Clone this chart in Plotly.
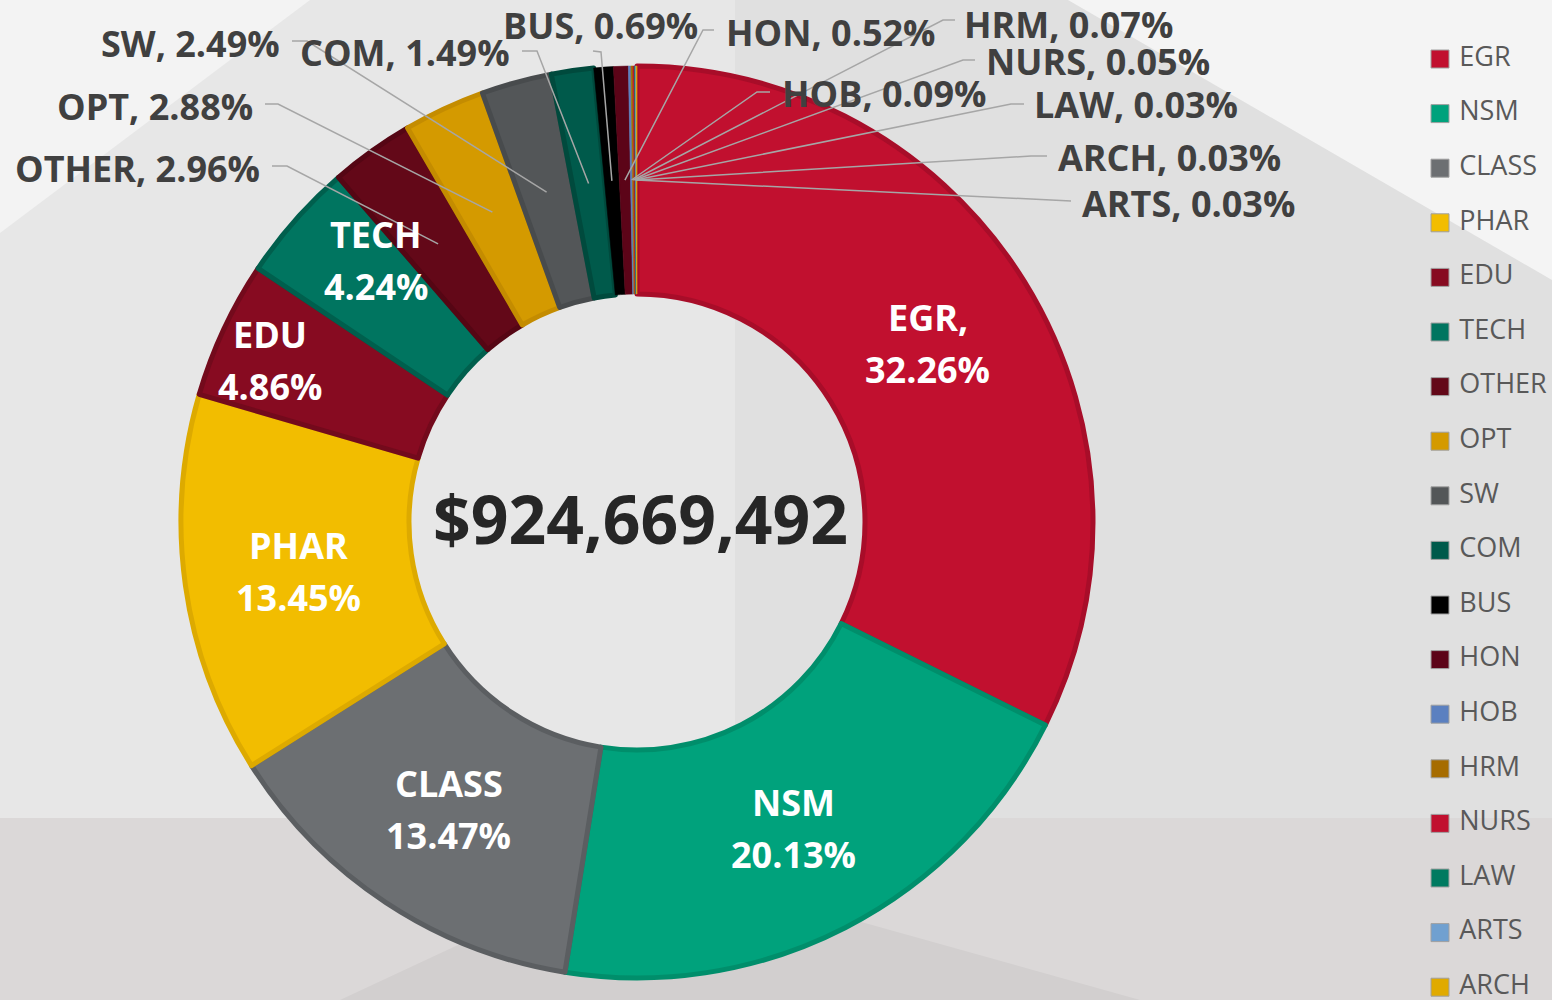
import math
import plotly.graph_objects as go

# data
colleges = ["EGR", "NSM", "CLASS", "PHAR", "EDU", "TECH", "OTHER", "OPT", "SW",
            "COM", "BUS", "HON", "HOB", "HRM", "NURS", "LAW", "ARTS", "ARCH"]
share_pct = [32.26, 20.13, 13.47, 13.45, 4.86, 4.24, 2.96, 2.88, 2.49,
             1.49, 0.69, 0.52, 0.09, 0.07, 0.05, 0.03, 0.03, 0.03]
total_funding = 924669492

fill_colors = ["#c1102f", "#00a27c", "#6c6f72", "#f2bd00", "#870b21", "#007560",
               "#630818", "#d49a00", "#535658", "#005a4b", "#000000", "#5c0418",
               "#5b80c0", "#a66c00", "#c1102f", "#007a60", "#70a0d0", "#e0aa00"]
edge_colors = ["#a80d29", "#008e6b", "#5b5e61", "#ddaa00", "#730a1c", "#005f4d",
               "#550614", "#c48c00", "#484b4d", "#004a3d", "#000000", "#5c0418",
               "#5b80c0", "#a66c00", "#c1102f", "#007a60", "#70a0d0", "#e0aa00"]

# geometry (pixels)
W, H = 1552, 1000
CX, CY, R = 637, 522, 456
HOLE = 0.5
R_MID = R * (1 + HOLE) / 2

FONT = "Open Sans, Noto Sans, Arial, sans-serif"
LABEL_GREY = "#404040"
LINE_GREY = "#a6a6a6"

inside_labels = ["EGR", "NSM", "CLASS", "PHAR", "EDU", "TECH"]
inside_nudge = {"EDU": (-57, -19), "TECH": (-5, -37)}

# text x, text y, xanchor, landing x, landing y, elbow x, elbow y
outside_place = {
    "OTHER": (262, 168, "right", 272, 166, 287, 166),
    "OPT": (255, 106, "right", 265, 104, 278, 104),
    "SW": (282, 43, "right", 292, 41, 307, 41),
    "COM": (512, 52, "right", 522, 51, 537, 51),
    "BUS": (700, 25, "right", 593, 51, 601, 52),
    "HON": (724, 32, "left", 714, 30, 703, 30),
    "HOB": (780, 93, "left", 770, 92, 757, 92),
    "HRM": (962, 24, "left", 955, 20, 943, 20),
    "NURS": (984, 61, "left", 975, 60, 963, 60),
    "LAW": (1032, 104, "left", 1024, 104, 1011, 104),
    "ARCH": (1056, 157, "left", 1047, 156, 1031, 156),
    "ARTS": (1080, 203, "left", 1071, 201, 1051, 200),
}


def mid_point(i, r):
    tot = sum(share_pct)
    cum = sum(share_pct[:i]) + share_pct[i] / 2
    th = 2 * math.pi * cum / tot
    return CX + r * math.sin(th), CY - r * math.cos(th)


fig = go.Figure()

widths = [5 if v >= 1 else 0.6 for v in share_pct]
fig.add_trace(go.Pie(
    labels=colleges, values=share_pct, sort=False, direction="clockwise",
    rotation=0, hole=HOLE, textinfo="none", showlegend=False,
    marker=dict(colors=fill_colors, line=dict(color=edge_colors, width=widths)),
    domain=dict(x=[(CX - R) / W, (CX + R) / W], y=[1 - (CY + R) / H, 1 - (CY - R) / H]),
))

# legend drawn as a scatter on a pixel axis
leg_top, leg_step = 59, 54.6
fig.add_trace(go.Scatter(
    x=[1440] * len(colleges),
    y=[leg_top + i * leg_step for i in range(len(colleges))],
    mode="markers+text", text=[" " + c for c in colleges], textposition="middle right",
    marker=dict(symbol="square", size=18, color=fill_colors, line=dict(color="#a0a0a0", width=1)),
    textfont=dict(family=FONT, size=27, color="#595959"),
    hoverinfo="skip", showlegend=False, cliponaxis=False,
))

annotations = []
shapes = []

# background
shapes.append(dict(type="rect", xref="x", yref="y", x0=735, y0=0, x1=W, y1=818,
                   fillcolor="#e0e0e0", line_width=0, layer="below"))
shapes.append(dict(type="path", xref="x", yref="y", path="M 0 0 L 310 0 L 0 233 Z",
                   fillcolor="#f3f3f3", line_width=0, layer="below"))
shapes.append(dict(type="path", xref="x", yref="y", path=f"M 1068 0 L {W} 0 L {W} 280 Z",
                   fillcolor="#f4f4f4", line_width=0, layer="below"))
shapes.append(dict(type="rect", xref="x", yref="y", x0=0, y0=818, x1=W, y1=H,
                   fillcolor="#dbd8d8", line_width=0, layer="below"))
shapes.append(dict(type="path", xref="x", yref="y", path=f"M 340 {H} L 640 860 L 1140 {H} Z",
                   fillcolor="#d2cfcf", line_width=0, layer="below"))

for i, name in enumerate(colleges):
    pct = f"{share_pct[i]:.2f}%"
    if name in inside_labels:
        x, y = mid_point(i, R_MID)
        dx, dy = inside_nudge.get(name, (0, 0))
        x, y = x + dx, y + dy + 2
        head = name + "," if name == "EGR" else name
        for txt, off in ((head, -26), (pct, 26)):
            annotations.append(dict(
                x=x, y=y + off, xref="x", yref="y", text=txt, showarrow=False,
                font=dict(family=FONT, size=36, color="white", weight=700),
            ))
    else:
        tx, ty, anc, lx, ly, ex, ey = outside_place[name]
        sx, sy = mid_point(i, R_MID)
        shapes.append(dict(type="path", xref="x", yref="y", layer="above",
                           path=f"M {sx:.1f} {sy:.1f} L {ex} {ey} L {lx} {ly}",
                           line=dict(color=LINE_GREY, width=1.5)))
        annotations.append(dict(
            x=tx, y=ty, xref="x", yref="y", xanchor=anc, yanchor="middle",
            text=f"{name}, {pct}", showarrow=False,
            font=dict(family=FONT, size=36, color=LABEL_GREY, weight=700),
        ))

annotations.append(dict(
    x=640, y=518, xref="x", yref="y", text=f"${total_funding:,}", showarrow=False,
    font=dict(family=FONT, size=66, color="#262626", weight=700),
))

fig.update_layout(
    width=W, height=H, margin=dict(l=0, r=0, t=0, b=0),
    paper_bgcolor="#e7e7e7", plot_bgcolor="rgba(0,0,0,0)",
    xaxis=dict(range=[0, W], visible=False, fixedrange=True),
    yaxis=dict(range=[H, 0], visible=False, fixedrange=True),
    shapes=shapes, annotations=annotations,
)

fig.write_html("out.html", config={"displayModeBar": False},
               post_script="document.body.style.margin = '0px';")
